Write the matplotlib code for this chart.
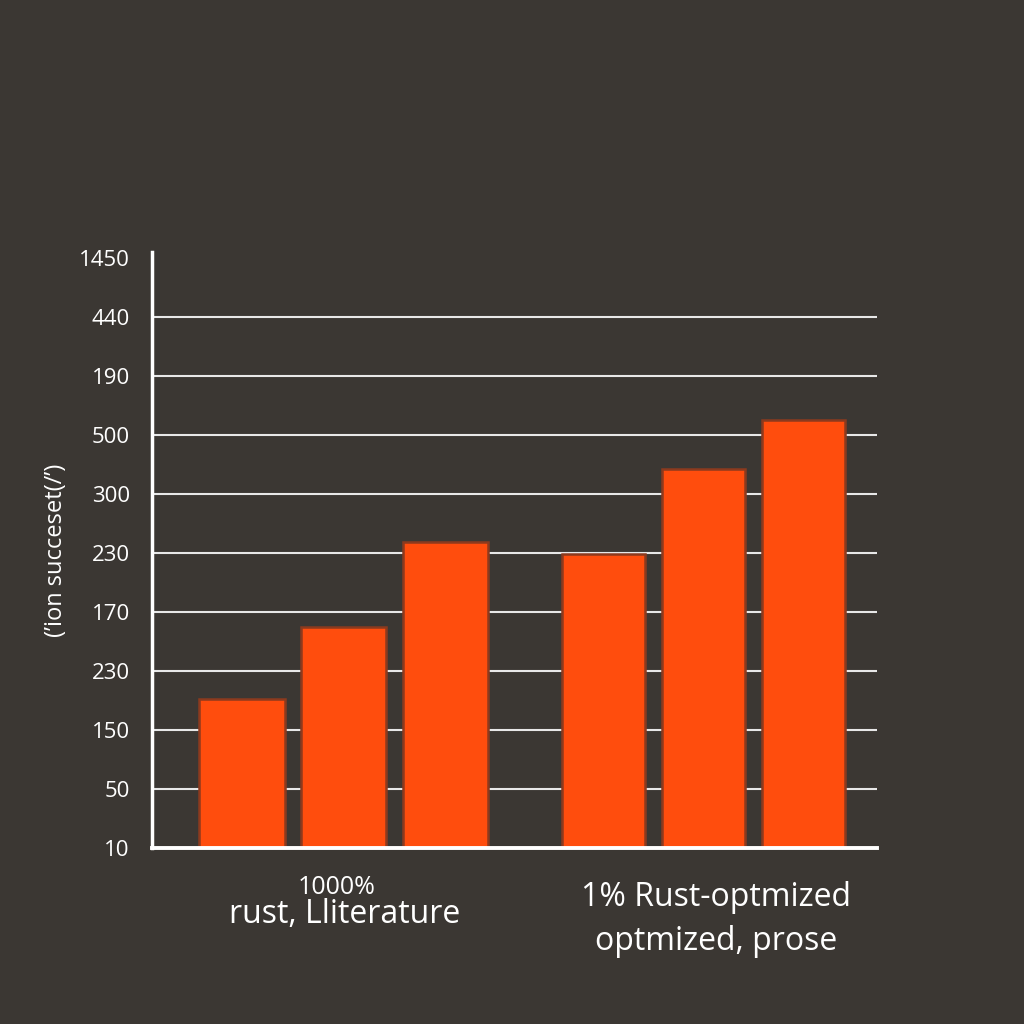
import matplotlib.pyplot as plt
import numpy as np

plt.rcParams['font.family'] = ['Open Sans', 'DejaVu Sans']

# tick labels as printed on the chart (bottom to top)
tick_labels = ['10', '50', '150', '230', '170', '230', '300', '500', '190', '440', '1450']
# bar heights measured in tick steps
group_a = [2.52, 3.75, 5.18]
group_b = [4.99, 6.43, 7.25]

bg = '#3b3733'
bar_color = '#ff4d0d'
edge_color = '#8c3a1e'

fig = plt.figure(figsize=(10.24, 10.24), dpi=100)
fig.patch.set_facecolor(bg)
ax = fig.add_axes([0.1484, 0.1719, 0.7080, 0.5820])
ax.set_facecolor(bg)

xa = np.arange(len(group_a))
xb = np.arange(len(group_b)) * 0.98 + 3.55
ax.bar(xa, group_a, width=0.84, color=bar_color, edgecolor=edge_color, linewidth=1.8, zorder=3)
ax.bar(xb, group_b, width=0.82, color=bar_color, edgecolor=edge_color, linewidth=1.8, zorder=3)

ax.set_xlim(-0.88, 6.23)
ax.set_ylim(0, 10.1)
ax.set_yticks(range(len(tick_labels)))
ax.set_yticklabels(tick_labels, color='white', fontsize=16)
ax.set_xticks([])
ax.tick_params(axis='y', length=0, pad=16)

for y in range(1, 10):
    ax.axhline(y, color='#e8e8e8', linewidth=1.5, zorder=1)

for side in ['top', 'right']:
    ax.spines[side].set_visible(False)
ax.spines['left'].set_color('white')
ax.spines['left'].set_linewidth(2.5)
ax.spines['bottom'].set_color('white')
ax.spines['bottom'].set_linewidth(2.8)
ax.spines['bottom'].set_zorder(4)

ax.set_ylabel('(’ion succeset(/’)', color='white', fontsize=17, labelpad=8)

fig.text(0.329, 0.133, '1000%', color='white', fontsize=18, ha='center', va='center')
fig.text(0.337, 0.107, 'rust, Lliterature', color='white', fontsize=23, ha='center', va='center')
fig.text(0.699, 0.124, '1% Rust-optmized', color='white', fontsize=23, ha='center', va='center')
fig.text(0.699, 0.081, 'optmized, prose', color='white', fontsize=23, ha='center', va='center')

fig.savefig('out.png', dpi=100, facecolor=bg)
